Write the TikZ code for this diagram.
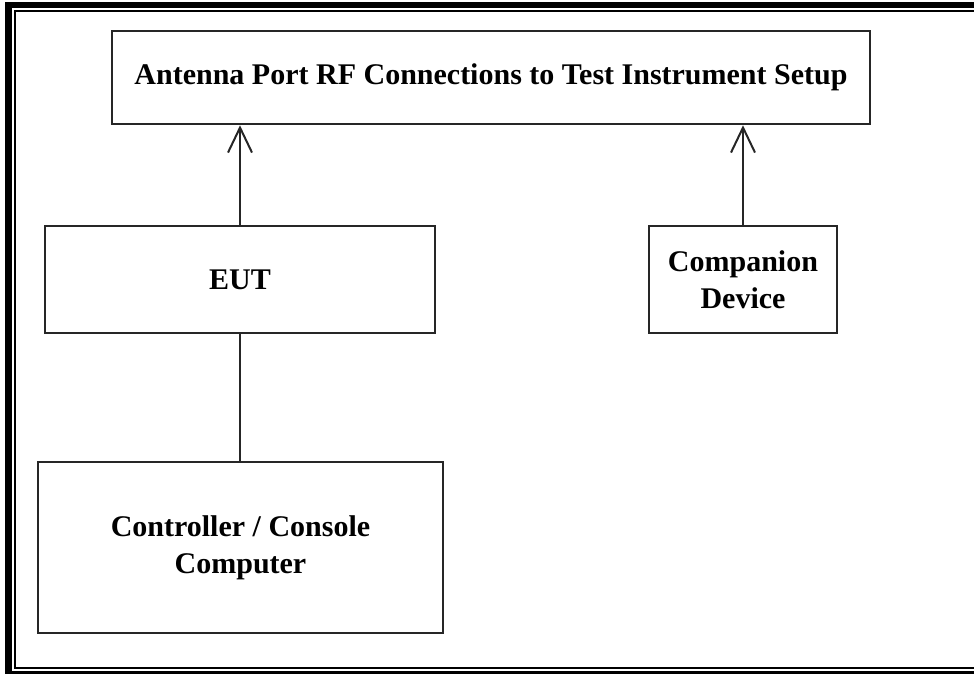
\documentclass[tikz,border=0pt]{standalone}
\usepackage{fontspec}
\setmainfont{Liberation Serif}
\usetikzlibrary{arrows.meta}
\begin{document}
\begin{tikzpicture}[x=0.75pt,y=-0.75pt,
  box/.style={draw=black!85, line width=1.9pt, inner sep=0pt, align=center,
    font=\fontsize{22.5}{27.75}\selectfont\bfseries},
  link/.style={line width=1.5pt, draw=black!85},
  uparrow/.style={link, -{Straight Barb[length=18.75pt,width=18pt]}}]
\useasboundingbox (0,0) rectangle (974,674);
% double page frame
\draw[line width=4.8pt] (8.5,5) rectangle (982,674);
\draw[line width=1.5pt] (14.5,11) rectangle (976,668);
% blocks
\node[box, minimum width=568.5pt, minimum height=69.75pt] (title) at (491,77.5)
  {Antenna Port RF Connections to Test Instrument Setup};
\node[box, minimum width=292.5pt, minimum height=80.25pt] (eut) at (240,279.5) {EUT};
\node[box, minimum width=141pt, minimum height=80.25pt] (comp) at (743,279.5)
  {Companion\\Device};
\node[box, minimum width=303.75pt, minimum height=128.25pt] (ctrl) at (240.5,547.5)
  {Controller / Console\\Computer};
% connections
\draw[uparrow] (eut.north) -- (eut.north |- title.south);
\draw[uparrow] (comp.north) -- (comp.north |- title.south);
\draw[link] (eut.south) -- (eut.south |- ctrl.north);
\end{tikzpicture}
\end{document}
